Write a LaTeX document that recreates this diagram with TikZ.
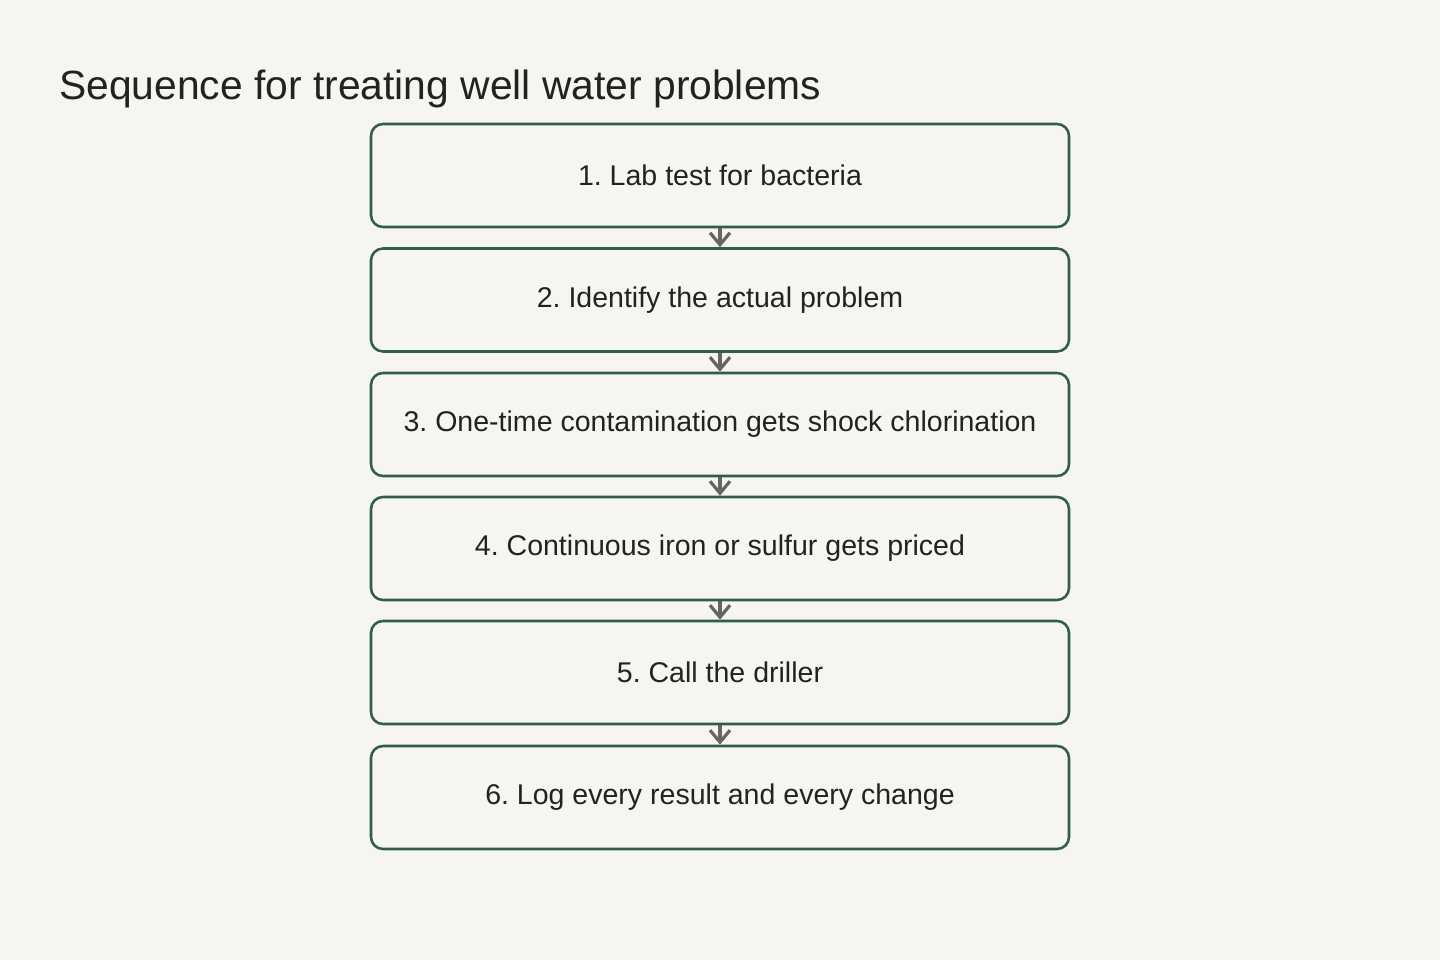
\documentclass[tikz,border=0pt]{standalone}
\usepackage{fontspec}
\setmainfont{Liberation Sans}
\usetikzlibrary{arrows.meta}
\definecolor{paper}{HTML}{F6F5F0}
\definecolor{boxline}{HTML}{2E5E4E}
\definecolor{arrowgray}{HTML}{666661}
\definecolor{ink}{HTML}{222222}
\frenchspacing

\begin{document}
\begin{tikzpicture}[x=0.75pt,y=-0.75pt,
    stepbox/.style={draw=boxline,line width=1.9pt,rounded corners=9pt,
      minimum width=523.5pt,minimum height=77.25pt,inner sep=0pt,
      text=ink,font=\fontsize{21.4}{26}\selectfont},
    flow/.style={draw=arrowgray,line width=2.4pt,-{Straight Barb[length=9pt,width=15pt,line width=2.4pt]}}]
    \fill[paper] (0,0) rectangle (1440,960);
    \useasboundingbox (0,0) rectangle (1440,960);
    \node[anchor=base west,inner sep=0pt,text=ink,font=\fontsize{30.6}{36}\selectfont] (title) at (59,99) {Sequence for treating well water problems};
    \node[stepbox] (s1) at (720,175.5) {1. Lab test for bacteria};
    \node[stepbox] (s2) at (720,300) {2. Identify the actual problem};
    \node[stepbox] (s3) at (720,424.5) {3. One-time contamination gets shock chlorination};
    \node[stepbox] (s4) at (720,548.5) {4. Continuous iron or sulfur gets priced};
    \node[stepbox] (s5) at (720,672.5) {5. Call the driller};
    \node[stepbox] (s6) at (720,797.5) {6. Log every result and every change};
    \foreach \a/\b in {s1/s2,s2/s3,s3/s4,s4/s5,s5/s6}
      \draw[flow] (\a.south) -- (\b.north);
\end{tikzpicture}
\end{document}
